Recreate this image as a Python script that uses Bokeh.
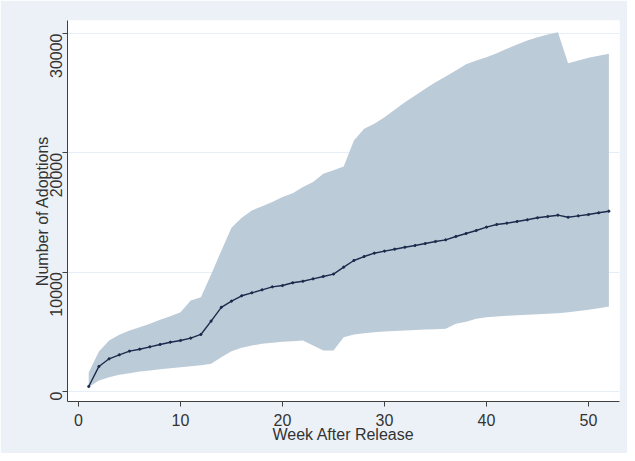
from bokeh.plotting import figure
from bokeh.models import Range1d, FixedTicker
from bokeh.embed import file_html
from bokeh.resources import INLINE
import math

weeks = list(range(1, 53))
mean_adopt = [420, 2100, 2740, 3075, 3380, 3545, 3745, 3940, 4130, 4275, 4470, 4780,
              5900, 7050, 7570, 8020, 8270, 8520, 8770, 8880, 9110, 9240, 9440, 9640,
              9840, 10420, 10980, 11310, 11590, 11760, 11925, 12090, 12235, 12400, 12570,
              12710, 12990, 13240, 13490, 13770, 13995, 14105, 14250, 14390, 14560, 14665,
              14775, 14600, 14720, 14830, 14975, 15110]
upper_adopt = [1600, 3350, 4275, 4750, 5110, 5390, 5670, 6010, 6310, 6645, 7630, 7900,
               9800, 11800, 13720, 14560, 15170, 15530, 15870, 16290, 16620, 17130, 17550,
               18250, 18550, 18860, 21030, 22010, 22430, 22990, 23610, 24240, 24800, 25370,
               25920, 26400, 26900, 27430, 27740, 28010, 28350, 28720, 29080, 29410, 29690,
               29920, 30110, 27510, 27740, 27960, 28130, 28300]
lower_adopt = [350, 920, 1200, 1400, 1530, 1680, 1760, 1870, 1950, 2040, 2120, 2200,
               2320, 2870, 3380, 3660, 3855, 4000, 4080, 4165, 4215, 4275, 3855, 3435,
               3435, 4550, 4775, 4885, 4970, 5030, 5080, 5120, 5160, 5190, 5220, 5250,
               5670, 5850, 6090, 6230, 6290, 6340, 6390, 6430, 6470, 6510, 6550, 6650,
               6750, 6860, 6980, 7120]
x_ticks = [0, 10, 20, 30, 40, 50]
y_ticks = [0, 10000, 20000, 30000]

BG = "#ecf1f7"
FONT = "Liberation Sans"
TXT = "#333333"

p = figure(width=627, height=453, output_backend="svg", toolbar_location=None,
           x_range=Range1d(-1.08, 53.04), y_range=Range1d(-838, 31090),
           min_border_left=67, min_border_right=8, min_border_top=20, min_border_bottom=52)
p.background_fill_color = "white"
p.border_fill_color = BG
p.outline_line_color = None

p.varea(x=weeks, y1=lower_adopt, y2=upper_adopt, fill_color="#bccbd8", fill_alpha=1.0)
p.line(x=weeks, y=mean_adopt, line_color="#1b2b4b", line_width=1.4)
p.scatter(x=weeks, y=mean_adopt, size=2.2, fill_color="#1b2b4b", line_color="#1b2b4b")

p.xgrid.grid_line_color = None
p.ygrid.grid_line_color = "#e6eef8"
p.ygrid.grid_line_width = 1.2

p.xaxis.ticker = FixedTicker(ticks=x_ticks)
p.yaxis.ticker = FixedTicker(ticks=y_ticks)
for ax in (p.xaxis, p.yaxis):
    ax.minor_tick_line_color = None
    ax.major_tick_out = 5
    ax.major_tick_in = 0
    ax.axis_line_color = "#404040"
    ax.major_tick_line_color = "#404040"
    ax.major_label_text_font = FONT
    ax.major_label_text_font_size = "16px"
    ax.major_label_text_color = TXT
    ax.axis_label_text_font = FONT
    ax.axis_label_text_font_size = "16px"
    ax.axis_label_text_font_style = "normal"
    ax.axis_label_text_color = TXT

p.xaxis.axis_label = "Week After Release"
p.yaxis.axis_label = "Number of Adoptions"
p.yaxis.major_label_orientation = math.pi / 2
p.xaxis.major_label_standoff = 7
p.yaxis.major_label_standoff = 6
p.xaxis.axis_label_standoff = -3
p.yaxis.axis_label_standoff = -9

open("out.html", "w").write(file_html(p, INLINE))
